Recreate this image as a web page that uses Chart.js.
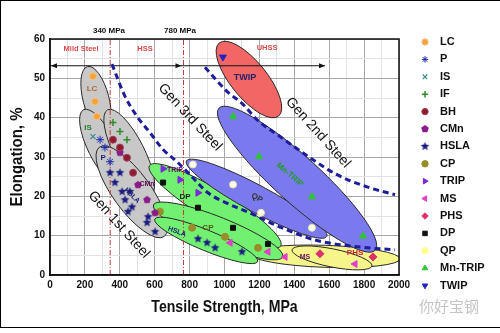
<!DOCTYPE html>
<html>
<head>
<meta charset="utf-8">
<script src="https://cdn.jsdelivr.net/npm/chart.js@4.4.1/dist/chart.umd.min.js"></script>
<style>
  html, body { margin: 0; padding: 0; background: #fff; }
  #wrap { position: relative; width: 500px; height: 333px; }
  #frame { position: absolute; left: 0; top: 0; width: 500px; height: 328px; box-sizing: border-box;
           border-top: 1px solid #000; border-left: 1px solid #000; border-bottom: 1px solid #000; pointer-events: none; }
  #wm { position: absolute; left: 419px; top: 297px; font: 15px/18px "Noto Sans CJK SC", sans-serif; color: #c4c4c4; }
</style>
</head>
<body>
<div id="wrap">
  <canvas id="chart" width="500" height="333"></canvas>
  <div id="frame"></div>
  <div id="wm">你好宝钢</div>
</div>
<script>
// ==============================
// data (tensile strength MPa, elongation %)
// ==============================
const steelGrades = ["LC", "P", "IS", "IF", "BH", "CMn", "HSLA", "CP", "TRIP", "MS", "PHS", "DP", "QP", "Mn-TRIP", "TWIP"];

const lcPts    = [[246, 50.5], [258, 44.1], [269, 40.3]];
const pPts     = [[287, 34.4], [315, 32.4], [344, 28.8]];
const isPts    = [[246, 35.2]];
const ifPts    = [[361, 38.8], [401, 36.5], [441, 34.4]];
const bhPts    = [[361, 34.4], [401, 32.4], [441, 29.8], [476, 26.0]];
const cmnPts   = [[401, 31.1], [504, 22.9], [556, 19.1], [602, 15.8]];
const hslaPts  = [[344, 26.0], [401, 26.0], [372, 23.5], [413, 21.2], [458, 21.2], [430, 19.1], [470, 17.3],
                  [447, 16.1], [562, 14.8], [556, 13.3], [602, 11.0], [848, 9.2], [900, 8.2], [946, 6.9], [1100, 5.9]];
const cpPts    = [[630, 16.1], [814, 12.0], [1003, 9.7], [1192, 6.9]];
const tripPts  = [[648, 27.0], [745, 24.2], [848, 20.9]];
const msPts    = [[1032, 8.2], [1249, 5.9], [1347, 4.6], [1748, 2.8]];
const phsPts   = [[1547, 5.4], [1851, 4.6]];
const dpPts    = [[648, 23.5], [848, 17.1], [1049, 12.0], [1249, 7.9]];
const qpPts    = [[819, 28.1], [1049, 23.0], [1209, 15.8], [1501, 12.0]];
const mnTripPts = [[1049, 40.3], [1198, 30.1], [1501, 19.9], [1794, 9.9]];
const twipPts  = [[991, 55.4]];

// property zones: major axis ends + half width (in elongation %)
const zoneNames = ["LC", "IS-P", "BH-IF", "HSLA", "PHS band", "MS-PHS", "TRIP-DP", "CP", "HSLA-2", "QP", "Mn-TRIP", "TWIP"];
const zoneKind  = ["gray", "gray", "gray", "gray", "yellow", "yellow", "green", "green", "green", "blue", "blue", "red"];
const zoneFrom  = [[215, 53.0], [192, 42.0], [330, 42.0], [283, 32.5], [1146, 5.4], [1387, 6.4],
                   [570, 27.8], [593, 17.8], [600, 14.2], [782, 29.0], [968, 42.4], [970, 59.0]];
const zoneTo    = [[312, 36.5], [405, 23.0], [578, 20.5], [655, 9.8], [2006, 4.1], [1845, 2.3],
                   [1322, 7.4], [1334, 4.6], [1190, 3.4], [1586, 9.8], [1864, 6.3], [1310, 40.4]];
const zoneHalf  = [3.3, 3.6, 3.8, 4.8, 2.8, 2.3, 3.9, 3.5, 2.6, 3.4, 5.8, 4.6];

// gen 3rd steel boundaries
const gen3LowerX = [355, 430, 499, 573, 648, 728, 802, 905, 1032, 1146, 1318, 1519, 1777, 1977];
const gen3LowerY = [53.6, 45.4, 40.3, 36.2, 31.9, 28.8, 25.5, 20.9, 17.9, 15.8, 12.2, 8.9, 7.1, 6.4];
const gen3UpperX = [888, 1014, 1106, 1186, 1318, 1507, 1645, 1817, 1977];
const gen3UpperY = [52.8, 46.7, 43.4, 39.5, 35.2, 29.3, 25.5, 22.4, 20.4];

const classBounds = [345, 765];      // 340 MPa / 780 MPa
const classArrowY = 53.2;
const classArrowEnd = 1576;

// ==============================
// styles
// ==============================
const FONT = '"Liberation Sans", Arial, sans-serif';
const zoneFill = { gray: "#c8c8c8", green: "#72f072", blue: "#7a7aee", red: "#f26666", yellow: "#f5f58c" };

function shapeCanvas(kind, color, r) {
    const c = document.createElement("canvas");
    const s = Math.ceil(r * 2 + 2);
    c.width = c.height = s;
    const g = c.getContext("2d");
    g.translate(s / 2, s / 2);
    g.beginPath();
    const n = kind === "star" ? 10 : 5;
    for (let k = 0; k < n; k++) {
        const a = -Math.PI / 2 + k * 2 * Math.PI / n;
        const rr = (kind === "star" && k % 2) ? r * 0.45 : r;
        g.lineTo(rr * Math.cos(a), rr * Math.sin(a));
    }
    g.closePath();
    g.fillStyle = color;
    g.fill();
    return c;
}

const markerStyle = {
    "LC":      { pointStyle: "circle", bg: "#f4a23c", bd: "#f6c486", bw: 1, r: 3.5 },
    "P":       { pointStyle: "star", bg: "#1c2ab0", bd: "#1c2ab0", bw: 1, r: 4 },
    "IS":      { pointStyle: "crossRot", bg: "#3c8c8c", bd: "#3c8c8c", bw: 1.2, r: 3.5 },
    "IF":      { pointStyle: "cross", bg: "#2e8b2e", bd: "#2e8b2e", bw: 1.5, r: 3.5 },
    "BH":      { pointStyle: "circle", bg: "#8e1c2c", bd: "#a04060", bw: 1, r: 3.5 },
    "CMn":     { pointStyle: shapeCanvas("pentagon", "#8b1a8b", 4), bg: "#8b1a8b", bd: "#8b1a8b", bw: 0, r: 4 },
    "HSLA":    { pointStyle: shapeCanvas("star", "#1a1a80", 4.5), bg: "#1a1a80", bd: "#1a1a80", bw: 0, r: 4.5 },
    "CP":      { pointStyle: "circle", bg: "#9a8c28", bd: "#9a8c28", bw: 1, r: 3.5 },
    "TRIP":    { pointStyle: "triangle", rot: 90, bg: "#7a2ad8", bd: "#7a2ad8", bw: 1, r: 4 },
    "MS":      { pointStyle: "triangle", rot: -90, bg: "#e040c8", bd: "#e040c8", bw: 1, r: 4 },
    "PHS":     { pointStyle: "rectRot", bg: "#e0306c", bd: "#e0306c", bw: 1, r: 4 },
    "DP":      { pointStyle: "rect", bg: "#111111", bd: "#111111", bw: 1, r: 3.5 },
    "QP":      { pointStyle: "circle", bg: "#fffff0", bd: "#e4e4a8", bw: 1, r: 3.5 },
    "Mn-TRIP": { pointStyle: "triangle", bg: "#2ec82e", bd: "#2ec82e", bw: 1, r: 4 },
    "TWIP":    { pointStyle: "triangle", rot: 180, bg: "#2424c0", bd: "#2424c0", bw: 1, r: 4 }
};

const gradePoints = [lcPts, pPts, isPts, ifPts, bhPts, cmnPts, hslaPts, cpPts, tripPts, msPts, phsPts, dpPts, qpPts, mnTripPts, twipPts];

const toXY = arr => arr.map(p => ({ x: p[0], y: p[1] }));
const zip = (xs, ys) => xs.map((x, i) => ({ x, y: ys[i] }));

const pointSets = steelGrades.map((name, i) => {
    const m = markerStyle[name];
    return {
        label: name,
        data: toXY(gradePoints[i]),
        pointStyle: m.pointStyle,
        rotation: m.rot || 0,
        pointRadius: m.r,
        pointBackgroundColor: m.bg,
        pointBorderColor: m.bd,
        pointBorderWidth: m.bw,
        inLegend: true,
        order: 1
    };
});

const lineSets = [
    { label: "gen3-lower", data: zip(gen3LowerX, gen3LowerY), showLine: true, pointRadius: 0,
      borderColor: "#1c1c9c", borderWidth: 3, borderDash: [6, 4], cubicInterpolationMode: "monotone", order: 5 },
    { label: "gen3-upper", data: zip(gen3UpperX, gen3UpperY), showLine: true, pointRadius: 0,
      borderColor: "#1c1c9c", borderWidth: 3, borderDash: [6, 4], cubicInterpolationMode: "monotone", order: 5 },
    ...classBounds.map(b => ({
        label: "bound-" + b, data: [{ x: b, y: 0 }, { x: b, y: 60 }], showLine: true, pointRadius: 0,
        borderColor: "#c83838", borderWidth: 1, borderDash: [5, 2, 1, 2], order: 6
    })),
    { label: "class-arrow", data: [{ x: 0, y: classArrowY }, { x: classArrowEnd, y: classArrowY }], showLine: true,
      pointRadius: 0, borderColor: "#111", borderWidth: 1.2, order: 6 }
];

// ==============================
// plugins
// ==============================
const zonePlugin = {
    id: "zones",
    beforeDatasetsDraw(chart) {
        const { ctx, chartArea: a, scales: { x, y } } = chart;
        ctx.save();
        ctx.beginPath();
        ctx.rect(a.left, a.top, a.right - a.left, a.bottom - a.top);
        ctx.clip();
        zoneNames.forEach((n, i) => {
            const x1 = x.getPixelForValue(zoneFrom[i][0]), y1 = y.getPixelForValue(zoneFrom[i][1]);
            const x2 = x.getPixelForValue(zoneTo[i][0]), y2 = y.getPixelForValue(zoneTo[i][1]);
            const rx = Math.hypot(x2 - x1, y2 - y1) / 2;
            const ry = Math.abs(y.getPixelForValue(0) - y.getPixelForValue(zoneHalf[i]));
            ctx.beginPath();
            ctx.ellipse((x1 + x2) / 2, (y1 + y2) / 2, rx, ry, Math.atan2(y2 - y1, x2 - x1), 0, Math.PI * 2);
            ctx.fillStyle = zoneFill[zoneKind[i]];
            ctx.fill();
            ctx.lineWidth = 1;
            ctx.strokeStyle = "#2a2a2a";
            ctx.stroke();
        });
        ctx.restore();
    }
};

// text notes: [text, x(MPa), y(%), color, angle deg, font]
const notes = [
    ["LC", 241, 47.4, "#b06a30", 0, "bold 8px " + FONT],
    ["IS", 218, 37.4, "#2a7a2a", 0, "bold 8px " + FONT],
    ["P", 304, 29.8, "#23238a", 0, "bold 8px " + FONT],
    ["CMn", 556, 23.2, "#5a1050", 0, "bold 7px " + FONT],
    ["HSLA", 470, 20.2, "#1a1a70", 45, "bold 7px " + FONT],
    ["TRIP", 716, 26.8, "#5a1060", 0, "bold 7px " + FONT],
    ["DP", 774, 19.9, "#202020", 0, "bold 8px " + FONT],
    ["CP", 905, 12.0, "#555510", 0, "bold 8px " + FONT],
    ["HSLA", 728, 11.0, "#1a1a70", 20, "bold 7px " + FONT],
    ["QP", 1186, 19.6, "#333333", 30, "bold 8px " + FONT],
    ["Mn-TRIP", 1375, 25.5, "#1e9e1e", 40, "bold 8px " + FONT],
    ["TWIP", 1117, 50.3, "#22226a", 0, "bold 9px " + FONT],
    ["MS", 1461, 4.6, "#6a1060", 0, "bold 7px " + FONT],
    ["PHS", 1748, 5.6, "#c8203c", 0, "bold 8px " + FONT],
    ["Mild Steel", 178, 57.4, "#d84848", 0, "bold 7.5px " + FONT],
    ["HSS", 544, 57.4, "#d84848", 0, "bold 7.5px " + FONT],
    ["UHSS", 1244, 57.7, "#d84848", 0, "bold 7.5px " + FONT],
    ["340 MPa", 338, 62, "#111111", 0, "bold 8px " + FONT],
    ["780 MPa", 745, 62, "#111111", 0, "bold 8px " + FONT],
    ["Gen 3rd Steel", 802, 40.1, "#111111", 47, "14px " + FONT],
    ["Gen 2nd Steel", 1536, 36.2, "#111111", 48, "14px " + FONT],
    ["Gen 1st Steel", 395, 12.8, "#111111", 48, "14px " + FONT]
];

function drawText(ctx, t, px, py, ang, font, color, sx) {
    ctx.save();
    ctx.translate(px, py);
    ctx.rotate(ang * Math.PI / 180);
    ctx.scale(sx || 1, 1);
    ctx.font = font;
    ctx.fillStyle = color;
    ctx.textAlign = "center";
    ctx.textBaseline = "middle";
    ctx.fillText(t, 0, 0);
    ctx.restore();
}

const notePlugin = {
    id: "notes",
    afterDatasetsDraw(chart) {
        const { ctx, chartArea: a, scales: { x, y } } = chart;
        ctx.save();
        // arrow heads on the class line
        const ay = y.getPixelForValue(classArrowY);
        const head = (px, dir) => {
            ctx.beginPath();
            ctx.moveTo(px, ay);
            ctx.lineTo(px - dir * 6, ay - 2.5);
            ctx.lineTo(px - dir * 6, ay + 2.5);
            ctx.closePath();
            ctx.fillStyle = "#111";
            ctx.fill();
        };
        head(x.getPixelForValue(0) + 1, -1);
        head(x.getPixelForValue(classBounds[1]) - 2, 1);
        head(x.getPixelForValue(classArrowEnd), 1);

        notes.forEach(([t, vx, vy, color, ang, font]) => {
            drawText(ctx, t, x.getPixelForValue(vx), y.getPixelForValue(vy), ang, font, color);
        });

        // axis titles (condensed bold like the original)
        drawText(ctx, "Tensile Strength, MPa", (a.left + a.right) / 2, 307, 0, "bold 17px " + FONT, "#111", 0.83);
        drawText(ctx, "Elongation, %", 17, (a.top + a.bottom) / 2, -90, "bold 17px " + FONT, "#111", 0.88);

        // plot frame
        ctx.strokeStyle = "#111";
        ctx.lineWidth = 1.5;
        ctx.strokeRect(a.left, a.top, a.right - a.left, a.bottom - a.top);
        ctx.restore();
    }
};

const legendPlugin = {
    id: "sideLegend",
    afterDraw(chart) {
        const ctx = chart.ctx;
        const helpers = Chart.helpers;
        let row = 0;
        ctx.save();
        chart.data.datasets.forEach(ds => {
            if (!ds.inLegend) return;
            const ly = 42 + row * 17.4;
            ctx.fillStyle = ds.label === "QP" ? "#ffff90" : ds.pointBackgroundColor;
            ctx.strokeStyle = ds.label === "QP" ? "#ffff90" : ds.pointBorderColor;
            ctx.lineWidth = ds.pointBorderWidth;
            if (helpers && helpers.drawPoint) {
                helpers.drawPoint(ctx, {
                    pointStyle: ds.pointStyle, rotation: ds.rotation,
                    radius: 3.2, borderWidth: ds.pointBorderWidth
                }, 425, ly);
            }
            ctx.font = "bold 11px " + FONT;
            ctx.fillStyle = "#111";
            ctx.textAlign = "left";
            ctx.textBaseline = "middle";
            ctx.fillText(ds.label, 440, ly);
            row++;
        });
        ctx.restore();
    }
};

// ==============================
// chart
// ==============================
new Chart(document.getElementById("chart"), {
    type: "scatter",
    data: { datasets: [...pointSets, ...lineSets] },
    options: {
        responsive: false,
        animation: false,
        layout: { padding: { top: 39, right: 101, left: 0, bottom: 0 } },
        plugins: { legend: { display: false }, tooltip: { enabled: false } },
        scales: {
            x: {
                min: 0, max: 2000,
                afterFit: s => { s.height = 58; },
                ticks: {
                    stepSize: 100, autoSkip: false, maxRotation: 0, padding: 4, color: "#111",
                    font: { family: FONT, size: 10, weight: "bold" },
                    callback: v => (v % 200 === 0 ? v : "")
                },
                grid: { drawTicks: false, color: c => (c.tick && c.tick.value % 200 === 0 ? "#a8a8a8" : "#e2e2e2") },
                border: { color: "#111", width: 1.5 }
            },
            y: {
                min: 0, max: 60,
                afterFit: s => { s.width = 50; },
                ticks: {
                    stepSize: 5, autoSkip: false, padding: 5, color: "#111",
                    font: { family: FONT, size: 10, weight: "bold" },
                    callback: v => (v % 10 === 0 ? v : "")
                },
                grid: { drawTicks: false, color: c => (c.tick && c.tick.value % 10 === 0 ? "#a8a8a8" : "#e2e2e2") },
                border: { color: "#111", width: 1.5 }
            }
        }
    },
    plugins: [zonePlugin, notePlugin, legendPlugin]
});
</script>
</body>
</html>
